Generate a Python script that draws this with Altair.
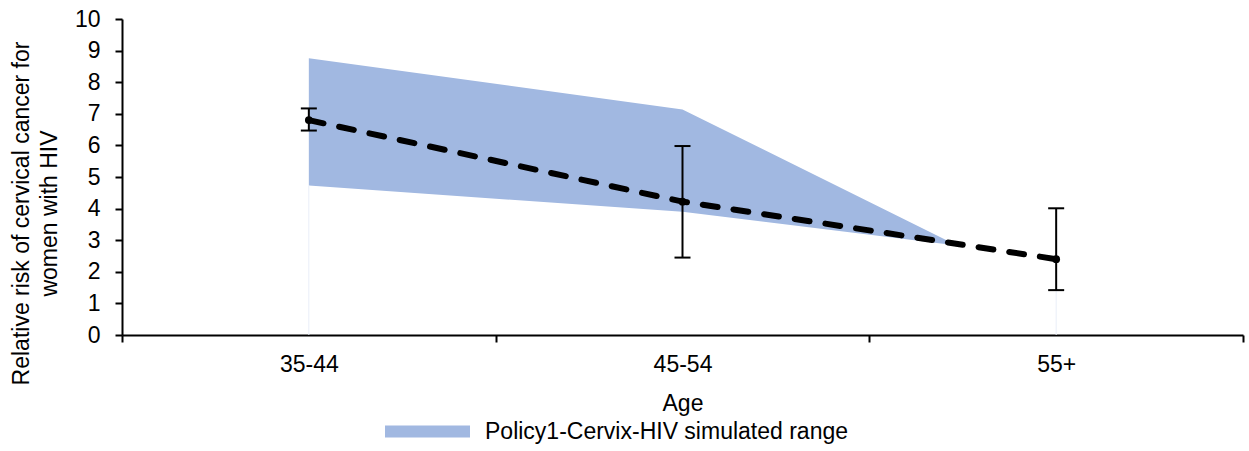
import altair as alt
import pandas as pd

# ---- data ----
ages = ["35-44", "45-54", "55+"]
age_pos = [0, 1, 2]
rr_mean = [6.80, 4.22, 2.40]
rr_low = [6.47, 2.45, 1.42]
rr_high = [7.17, 5.98, 4.01]

range_pos = [0, 1, 1.735]
range_high = [8.76, 7.14, 2.83]
range_low = [4.73, 3.90, 2.83]
range_name = "Policy1-Cervix-HIV simulated range"

base_pos = [0, 2]
base_top = [4.73, 1.42]
base_bottom = [0, 0]

y_ticks = list(range(0, 11))
x_ticks = [-0.5, 0, 0.5, 1, 1.5, 2, 2.5]

FONT = "Liberation Sans"
BLUE = "#a1b8e1"
TICK_FS = 23
TITLE_FS = 23

pts = pd.DataFrame({"pos": age_pos, "age": ages, "mean": rr_mean,
                    "low": rr_low, "high": rr_high})
band = pd.DataFrame({"pos": range_pos, "high": range_high, "low": range_low,
                     "series": [range_name] * len(range_pos)})
base = pd.DataFrame({"pos": base_pos, "top": base_top, "bottom": base_bottom})

label_expr = " : ".join(f"datum.value == {p} ? '{a}'" for p, a in zip(age_pos, ages)) + " : ''"
tick_expr = "(" + " || ".join(f"datum.value == {p}" for p in age_pos) + ") ? 0 : 1"

x_scale = alt.Scale(domain=[-0.5, 2.5], nice=False, zero=False)
y_scale = alt.Scale(domain=[0, 10], nice=False, zero=True)

x_axis = alt.Axis(
    values=x_ticks, labelExpr=label_expr, grid=False,
    tickOpacity=alt.ExprRef(expr=tick_expr),
    tickSize=7, tickWidth=2, tickColor="black",
    domainColor="black", domainWidth=2,
    labelFontSize=TICK_FS, labelColor="black", labelPadding=11, labelFont=FONT,
    labelFlush=False, labelOverlap=False,
    title="Age", titleFontSize=TITLE_FS, titleFontWeight="normal", titleColor="black",
    titleFont=FONT, titleY=68, titleBaseline="middle",
)
y_axis = alt.Axis(
    values=y_ticks, grid=False,
    tickSize=7, tickWidth=2, tickColor="black",
    domainColor="black", domainWidth=2,
    labelFontSize=TICK_FS, labelColor="black", labelPadding=15, labelFont=FONT,
    labelOverlap=False, labelFlush=False,
    title=["Relative risk of cervical cancer for", "women with HIV"],
    titleFontSize=TITLE_FS, titleFontWeight="normal", titleColor="black", titleFont=FONT,
    titleX=-112, titleY=194, titleAngle=270, titleAlign="center",
    titleBaseline="top", titleLineHeight=28,
)

X = lambda f: alt.X(f, scale=x_scale, axis=x_axis)
Y = lambda f: alt.Y(f, scale=y_scale, axis=y_axis)

area = alt.Chart(band).mark_area(opacity=1, line=False).encode(
    x=X("pos:Q"), y=Y("high:Q"), y2="low:Q",
    color=alt.Color("series:N", scale=alt.Scale(range=[BLUE]),
                    legend=alt.Legend(
                        title=None, orient="none", legendX=263, legendY=370,
                        padding=0,
                        symbolType="M-1,-0.141L1,-0.141L1,0.141L-1,0.141Z",
                        symbolSize=7225, symbolStrokeWidth=0, symbolOpacity=1,
                        labelFontSize=TITLE_FS, labelFont=FONT, labelColor="black",
                        labelOffset=15, labelLimit=600)),
)

faint = alt.Chart(base).mark_rule(color="#e9eef8", strokeWidth=1).encode(
    x=X("pos:Q"), y=Y("bottom:Q"), y2="top:Q")

line = alt.Chart(pts).mark_line(color="black", strokeWidth=6,
                                strokeDash=[15, 16], strokeCap="round").encode(
    x=X("pos:Q"), y=Y("mean:Q"))

err = alt.Chart(pts).mark_rule(color="black", strokeWidth=2).encode(
    x=X("pos:Q"), y=Y("low:Q"), y2="high:Q")

cap_lo = alt.Chart(pts).mark_tick(color="black", orient="horizontal", size=16,
                                  thickness=2, opacity=1).encode(
    x=X("pos:Q"), y=Y("low:Q"))
cap_hi = alt.Chart(pts).mark_tick(color="black", orient="horizontal", size=16,
                                  thickness=2, opacity=1).encode(
    x=X("pos:Q"), y=Y("high:Q"))

dots = alt.Chart(pts).mark_point(filled=True, color="black", size=60, opacity=1).encode(
    x=X("pos:Q"), y=Y("mean:Q"))

chart = alt.layer(area, faint, line, err, cap_lo, cap_hi, dots).properties(
    width=1121, height=316,
    autosize=alt.AutoSizeParams(type="none"),
    padding={"left": 122, "top": 19, "right": 6, "bottom": 116},
).configure(font=FONT, background="white").configure_view(stroke=None)

chart.save("out.html", embed_options={"renderer": "svg", "actions": False})
